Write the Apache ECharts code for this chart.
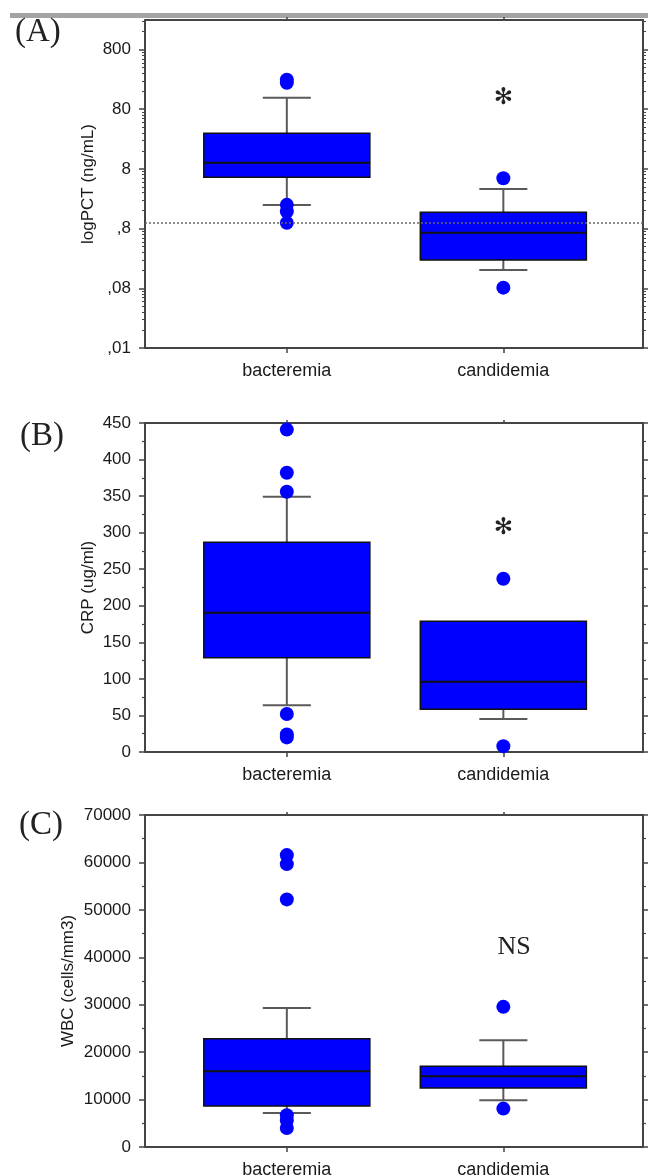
<!DOCTYPE html>
<html><head><meta charset="utf-8">
<script src="https://cdn.jsdelivr.net/npm/echarts@6/dist/echarts.min.js"></script>
<style>html,body{margin:0;padding:0;background:#fff}#c{width:648px;height:1176px}</style>
</head><body><div id="c"></div><script>
// ---------- data ----------
const CATEGORIES = ['bacteremia', 'candidemia'];

// Panel A: PCT (ng/mL), log axis. Box = [lower whisker, Q1, median, Q3, upper whisker]
const PCT_TICKS = [0.008, 0.08, 0.8, 8, 80, 800];
const PCT_TICK_LABELS = [',01', ',08', ',8', '8', '80', '800'];
const PCT_MIN = 0.008, PCT_MAX = 2500;
const PCT_BOX_BACT = [1.99, 5.8, 10.2, 31.6, 125];
const PCT_BOX_CAND = [0.162, 0.238, 0.683, 1.50, 3.68];
const PCT_OUT_BACT = [250, 222, 2.0, 1.55, 1.0];
const PCT_OUT_CAND = [5.57, 0.082];
const PCT_CUTOFF = 1.0;
const PCT_MARK = { text: '✻', cat: 2, value: 123 };

// Panel B: CRP (ug/ml)
const CRP_TICKS = [0, 50, 100, 150, 200, 250, 300, 350, 400, 450];
const CRP_BOX_BACT = [64, 129, 190.5, 287, 349];
const CRP_BOX_CAND = [45, 58.5, 96, 179, 179];
const CRP_OUT_BACT = [441, 382, 356, 52, 24, 20];
const CRP_OUT_CAND = [237, 8];
const CRP_MARK = { text: '✻', cat: 2, value: 307 };

// Panel C: WBC (cells/mm3)
const WBC_TICKS = [0, 10000, 20000, 30000, 40000, 50000, 60000, 70000];
const WBC_BOX_BACT = [7180, 8650, 15950, 22850, 29300];
const WBC_BOX_CAND = [9850, 12450, 14900, 17000, 22500];
const WBC_OUT_BACT = [61550, 59650, 52200, 6700, 5600, 4000];
const WBC_OUT_CAND = [29550, 8100];
const WBC_MARK = { text: 'NS', cat: 2.05, value: 42100 };

// ---------- style ----------
const AX = '#444';
const TXT = '#1a1a1a';
const SANS = '"Liberation Sans", Arial, sans-serif';
const SERIF = '"Liberation Serif", "Times New Roman", serif';
const BLUE = '#0000ff';
const WHISK = '#5a5a5a';
const X_MIN = 0.345, X_MAX = 2.645;
const BOX_W = 0.767, CAP_W = 0.222;
const L = Math.log10;

const panels = [
  { top: 20, height: 328, log: true, min: L(PCT_MIN), max: L(PCT_MAX),
    name: 'logPCT (ng/mL)', nameGap: 48,
    boxes: [PCT_BOX_BACT, PCT_BOX_CAND], outs: [PCT_OUT_BACT, PCT_OUT_CAND], mark: PCT_MARK,
    markFont: '23px "DejaVu Sans", sans-serif' },
  { top: 423, height: 329, log: false, min: 0, max: CRP_TICKS[CRP_TICKS.length - 1], interval: CRP_TICKS[1] - CRP_TICKS[0],
    name: 'CRP (ug/ml)', nameGap: 48,
    boxes: [CRP_BOX_BACT, CRP_BOX_CAND], outs: [CRP_OUT_BACT, CRP_OUT_CAND], mark: CRP_MARK,
    markFont: '23px "DejaVu Sans", sans-serif' },
  { top: 815, height: 332, log: false, min: 0, max: WBC_TICKS[WBC_TICKS.length - 1], interval: WBC_TICKS[1] - WBC_TICKS[0],
    name: 'WBC (cells/mm3)', nameGap: 68,
    boxes: [WBC_BOX_BACT, WBC_BOX_CAND], outs: [WBC_OUT_BACT, WBC_OUT_CAND], mark: WBC_MARK,
    markFont: '26px ' + SERIF }
];

const majorLog = PCT_TICKS.map(L);
const minorLog = [];
PCT_TICKS.forEach(t => { for (let m = 2; m <= 9; m++) { const v = t * m; if (v < PCT_MAX) minorLog.push(L(v)); } });
function pctLabel(v) {
  for (let i = 0; i < majorLog.length; i++) if (Math.abs(majorLog[i] - v) < 1e-6) return PCT_TICK_LABELS[i];
  return '';
}

function boxRenderer(params, api) {
  const x = api.value(0);
  const c = k => api.coord([x, api.value(k)]);
  const pLo = c(1), pQ1 = c(2), pMed = c(3), pQ3 = c(4), pHi = c(5);
  const bw = api.size([BOX_W, 0])[0], cw = api.size([CAP_W, 0])[0];
  const cx = pMed[0];
  const ws = { stroke: WHISK, lineWidth: 2 };
  const ch = [];
  if (pHi[1] < pQ3[1] - 0.5) {
    ch.push({ type: 'line', shape: { x1: cx, y1: pQ3[1], x2: cx, y2: pHi[1] }, style: ws });
    ch.push({ type: 'line', shape: { x1: cx - cw / 2, y1: pHi[1], x2: cx + cw / 2, y2: pHi[1] }, style: ws });
  }
  if (pLo[1] > pQ1[1] + 0.5) {
    ch.push({ type: 'line', shape: { x1: cx, y1: pQ1[1], x2: cx, y2: pLo[1] }, style: ws });
    ch.push({ type: 'line', shape: { x1: cx - cw / 2, y1: pLo[1], x2: cx + cw / 2, y2: pLo[1] }, style: ws });
  }
  ch.push({ type: 'rect', shape: { x: cx - bw / 2, y: pQ3[1], width: bw, height: pQ1[1] - pQ3[1] },
            style: { fill: BLUE, stroke: '#111', lineWidth: 1.5 } });
  ch.push({ type: 'line', shape: { x1: cx - bw / 2, y1: pMed[1], x2: cx + bw / 2, y2: pMed[1] },
            style: { stroke: '#111', lineWidth: 2 } });
  return { type: 'group', children: ch };
}

const grid = [], xAxis = [], yAxis = [], series = [];
panels.forEach((p, i) => {
  const tf = p.log ? L : (v => v);
  grid.push({ left: 145, width: 498, top: p.top, height: p.height, outerBoundsMode: 'none', containLabel: false });
  xAxis.push({ gridIndex: i, type: 'value', position: 'bottom', min: X_MIN, max: X_MAX,
    axisLine: { show: true, onZero: false, lineStyle: { color: AX, width: 2 } },
    axisTick: { show: true, inside: false, length: 5, customValues: [1, 2], lineStyle: { color: AX, width: 1.5 } },
    axisLabel: { show: true, customValues: [1, 2], formatter: v => CATEGORIES[Math.round(v) - 1] || '',
      margin: 14, color: TXT, fontSize: 18, fontFamily: SANS },
    splitLine: { show: false } });
  xAxis.push({ gridIndex: i, type: 'value', position: 'top', min: X_MIN, max: X_MAX,
    axisLine: { show: true, onZero: false, lineStyle: { color: AX, width: 2 } },
    axisTick: { show: true, inside: false, length: 3, customValues: [1, 2], lineStyle: { color: AX, width: 1.5 } },
    axisLabel: { show: false }, splitLine: { show: false } });

  const base = { gridIndex: i, type: 'value', min: p.min, max: p.max, splitLine: { show: false } };
  const tickStyle = { color: AX, width: 1.5 };
  const nameOpts = { name: p.name, nameLocation: 'middle', nameGap: p.nameGap, nameMoveOverlap: false,
    nameTextStyle: { color: TXT, fontSize: 17, fontFamily: SANS } };
  if (p.log) {
    yAxis.push(Object.assign({}, base, nameOpts, { position: 'left',
      axisLine: { show: true, onZero: false, lineStyle: { color: AX, width: 2 } },
      axisTick: { show: true, inside: false, length: 6, customValues: majorLog, lineStyle: tickStyle },
      axisLabel: { show: true, customValues: majorLog, formatter: pctLabel, margin: 14, color: TXT, fontSize: 17, fontFamily: SANS } }));
    yAxis.push(Object.assign({}, base, { position: 'left', axisLine: { show: false },
      axisTick: { show: true, inside: false, length: 3, customValues: minorLog, lineStyle: { color: AX, width: 1 } },
      axisLabel: { show: false } }));
    yAxis.push(Object.assign({}, base, { position: 'right',
      axisLine: { show: true, onZero: false, lineStyle: { color: AX, width: 2 } },
      axisTick: { show: true, inside: false, length: 5, customValues: majorLog, lineStyle: tickStyle },
      axisLabel: { show: false } }));
    yAxis.push(Object.assign({}, base, { position: 'right', axisLine: { show: false },
      axisTick: { show: true, inside: false, length: 3, customValues: minorLog, lineStyle: { color: AX, width: 1 } },
      axisLabel: { show: false } }));
  } else {
    const minor = { show: true, splitNumber: 2, length: 3, lineStyle: { color: AX, width: 1.2 } };
    yAxis.push(Object.assign({}, base, nameOpts, { position: 'left', interval: p.interval,
      axisLine: { show: true, onZero: false, lineStyle: { color: AX, width: 2 } },
      axisTick: { show: true, inside: false, length: 6, lineStyle: tickStyle },
      minorTick: minor, minorSplitLine: { show: false },
      axisLabel: { show: true, margin: 14, color: TXT, fontSize: 17, fontFamily: SANS, showMinLabel: true, showMaxLabel: true,
        formatter: v => String(v) } }));
    yAxis.push(Object.assign({}, base, { position: 'left', interval: p.interval, show: false }));
    yAxis.push(Object.assign({}, base, { position: 'right', interval: p.interval,
      axisLine: { show: true, onZero: false, lineStyle: { color: AX, width: 2 } },
      axisTick: { show: true, inside: false, length: 5, lineStyle: tickStyle },
      minorTick: minor, minorSplitLine: { show: false },
      axisLabel: { show: false } }));
    yAxis.push(Object.assign({}, base, { position: 'right', interval: p.interval, show: false }));
  }

  const xi = 2 * i, yi = 4 * i;
  series.push({ type: 'custom', xAxisIndex: xi, yAxisIndex: yi, renderItem: boxRenderer, z: 2,
    encode: { x: 0, y: [1, 2, 3, 4, 5] },
    data: p.boxes.map((b, j) => [j + 1].concat(b.map(tf))) });
  const pts = [];
  p.outs.forEach((arr, j) => arr.forEach(v => pts.push([j + 1, tf(v)])));
  const sc = { type: 'scatter', xAxisIndex: xi, yAxisIndex: yi, z: 4, symbol: 'circle', symbolSize: 14,
    itemStyle: { color: BLUE, opacity: 1 }, data: pts, silent: true };
  if (p.log) {
    sc.markLine = { silent: true, symbol: ['none', 'none'], label: { show: false }, animation: false,
      lineStyle: { type: [2, 2], color: '#666', width: 1.5 }, data: [{ yAxis: L(PCT_CUTOFF) }] };
  }
  series.push(sc);
  const mk = p.mark;
  series.push({ type: 'custom', xAxisIndex: xi, yAxisIndex: yi, z: 5, silent: true,
    data: [[mk.cat, tf(mk.value)]],
    renderItem: (params, api) => {
      const pt = api.coord([api.value(0), api.value(1)]);
      return { type: 'text', x: pt[0], y: pt[1],
        style: { text: mk.text, fill: '#222', font: p.markFont, textAlign: 'center', textVerticalAlign: 'middle' } };
    } });
});

const letters = [
  { t: '(A)', x: 15, y: 32 }, { t: '(B)', x: 20, y: 436 }, { t: '(C)', x: 19, y: 825 }
];
const graphic = [{ type: 'rect', shape: { x: 10, y: 13, width: 638, height: 5 }, style: { fill: '#a3a3a3' }, z: 0 }]
  .concat(letters.map(l => ({ type: 'text', x: l.x, y: l.y, z: 10,
    style: { text: l.t, fill: '#222', font: '33px ' + SERIF, textAlign: 'left', textVerticalAlign: 'middle' } })));

const chart = echarts.init(document.getElementById('c'), null, { renderer: 'canvas' });
chart.setOption({ animation: false, backgroundColor: '#fff', grid, xAxis, yAxis, series, graphic });
</script></body></html>
